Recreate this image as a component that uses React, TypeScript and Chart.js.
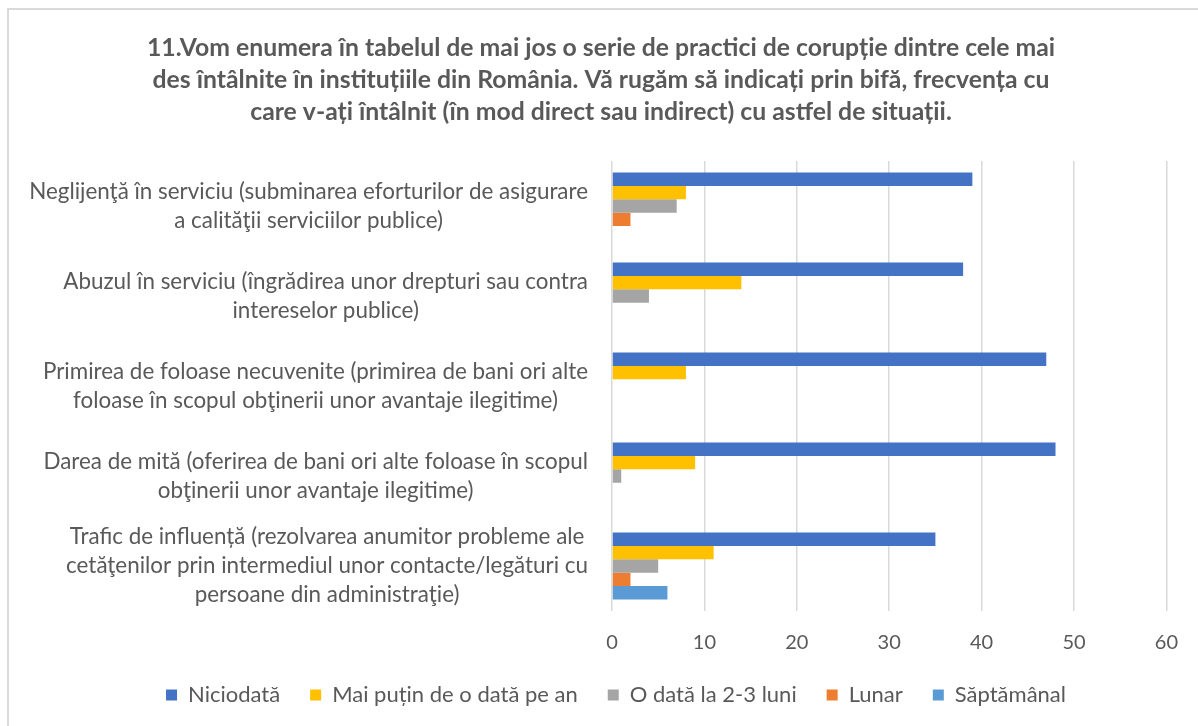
import React, { useEffect, useRef } from "react";
import { Chart, registerables } from "chart.js";

Chart.register(...registerables);

const titleLines = [
  "11.Vom enumera în tabelul de mai jos o serie de practici de corupție dintre cele mai",
  "des întâlnite în instituțiile din România. Vă rugăm să indicați prin bifă, frecvența cu",
  "care v-ați întâlnit (în mod direct sau indirect) cu astfel de situații.",
];

const categories: string[][] = [
  ["Neglijenţă în serviciu (subminarea eforturilor de asigurare", "a calităţii serviciilor publice)"],
  ["Abuzul în serviciu (îngrădirea unor drepturi sau contra", "intereselor publice)"],
  ["Primirea de foloase necuvenite (primirea de bani ori alte", "foloase în scopul obţinerii unor avantaje ilegitime)"],
  ["Darea de mită (oferirea de bani ori alte foloase în scopul", "obţinerii unor avantaje ilegitime)"],
  [
    "Trafic de influență (rezolvarea anumitor probleme ale",
    "cetăţenilor prin intermediul unor contacte/legături cu",
    "persoane din administraţie)",
  ],
];

const seriesNames = ["Niciodată", "Mai puțin de o dată pe an", "O dată la 2-3 luni", "Lunar", "Săptămânal"];
const niciodata = [39, 38, 47, 48, 35];
const maiPutin = [8, 14, 8, 9, 11];
const oData = [7, 4, 0, 1, 5];
const lunar = [2, 0, 0, 0, 2];
const saptamanal = [0, 0, 0, 0, 6];
const seriesColors = ["#4472C4", "#FFC000", "#A5A5A5", "#ED7D31", "#5B9BD5"];
const xTickStep = 10;

const FONT = "Lato, 'Open Sans', sans-serif";
const TEXT = "#595959";

const titlePlugin = {
  id: "titlePlugin",
  afterDraw(chart: any) {
    const ctx = chart.ctx;
    ctx.save();
    ctx.font = `bold 24.75px ${FONT}`;
    ctx.fillStyle = TEXT;
    ctx.textAlign = "center";
    ctx.textBaseline = "middle";
    titleLines.forEach((l, i) => ctx.fillText(l, 601, 48 + i * 32));
    ctx.restore();
  },
};

const yLabelPlugin = {
  id: "yLabelPlugin",
  afterDraw(chart: any) {
    const ctx = chart.ctx;
    const yScale = chart.scales.y;
    const rightEdge = chart.chartArea.left - 24;
    const lh = 29;
    ctx.save();
    ctx.font = `22.4px ${FONT}`;
    ctx.fillStyle = TEXT;
    ctx.textAlign = "center";
    ctx.textBaseline = "middle";
    categories.forEach((lines, i) => {
      const cy = yScale.getPixelForValue(i);
      const maxW = Math.max(...lines.map((l) => ctx.measureText(l).width));
      const cx = rightEdge - maxW / 2;
      const top = cy - ((lines.length - 1) * lh) / 2;
      lines.forEach((l, j) => ctx.fillText(l, cx, top + j * lh));
    });
    ctx.restore();
  },
};

export default function App() {
  const ref = useRef<HTMLCanvasElement | null>(null);
  useEffect(() => {
    if (!ref.current) return;
    const data = [niciodata, maiPutin, oData, lunar, saptamanal];
    const chart = new Chart(ref.current, {
      type: "bar",
      data: {
        labels: categories.map((c) => c.join(" ")),
        datasets: seriesNames.map((name, i) => ({
          label: name,
          data: data[i],
          backgroundColor: seriesColors[i],
          borderWidth: 0,
          categoryPercentage: 0.745,
          barPercentage: 1,
        })),
      },
      options: {
        indexAxis: "y",
        animation: false,
        responsive: false,
        maintainAspectRatio: false,
        layout: { padding: { left: 61, right: 27, top: 161, bottom: 10 } },
        plugins: {
          title: { display: false },
          legend: {
            position: "bottom",
            labels: {
              color: TEXT,
              font: { family: FONT, size: 22 },
              boxWidth: 11,
              boxHeight: 11,
              padding: 30,
            },
          },
          tooltip: { enabled: false },
        },
        scales: {
          x: {
            min: 0,
            max: 60,
            ticks: { stepSize: xTickStep, color: TEXT, font: { family: FONT, size: 20 }, padding: 20 },
            grid: { color: "#D9D9D9", lineWidth: 1.5, drawTicks: false },
            border: { display: false },
            afterFit: (s: any) => {
              s.height = 43;
            },
          },
          y: {
            ticks: { display: false },
            grid: { display: false },
            border: { display: false },
            afterFit: (s: any) => {
              s.width = 551;
            },
          },
        },
      },
      plugins: [yLabelPlugin, titlePlugin],
    });
    return () => chart.destroy();
  }, []);

  return (
    <div style={{ position: "fixed", left: 0, top: 0, width: 1198, height: 726, overflow: "hidden", background: "#fff" }}>
      <div
        style={{
          position: "absolute",
          left: 7,
          top: 8,
          width: 1300,
          height: 800,
          border: "2px solid #D9D9D9",
        }}
      />
      <canvas ref={ref} width={1198} height={726} style={{ position: "absolute", left: 0, top: 0, width: 1198, height: 726 }} />
    </div>
  );
}
